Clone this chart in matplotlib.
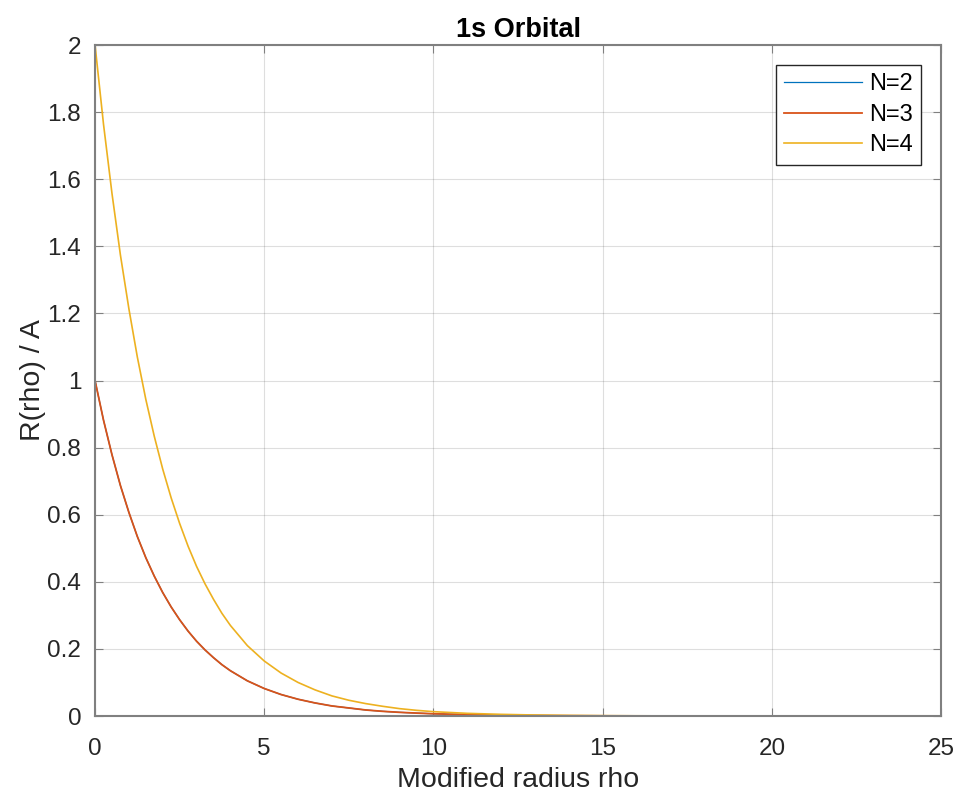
import matplotlib
matplotlib.use("Agg")
import matplotlib.pyplot as plt

plt.rcParams['font.family'] = ['Liberation Sans', 'DejaVu Sans']

rho = [0, 0.25, 0.5, 0.75, 1, 1.25, 1.5, 1.75, 2, 2.25, 2.5, 2.75, 3, 3.25, 3.5, 3.75, 4,
       4.5, 5, 5.5, 6, 6.5, 7, 7.5, 8, 8.5, 9, 9.5, 10,
       11, 12, 13, 14, 15, 16, 17, 18, 19, 20, 21, 22, 23, 24, 25]

r_n2 = [1.000, 0.882, 0.779, 0.687, 0.607, 0.535, 0.472, 0.417, 0.368, 0.325, 0.287, 0.253,
        0.223, 0.197, 0.174, 0.153, 0.135,
        0.105, 0.082, 0.064, 0.050, 0.039, 0.030, 0.024, 0.018, 0.014, 0.011, 0.0087, 0.0067,
        0.0041, 0.0025, 0.0015, 0.0009, 0.00055, 0.00034, 0.0002, 0.00012, 0.00007, 0.00005,
        0.00003, 0.00002, 0.00001, 0.00001, 0.0]

r_n3 = [1.000, 0.882, 0.779, 0.687, 0.607, 0.535, 0.472, 0.417, 0.368, 0.325, 0.287, 0.253,
        0.223, 0.197, 0.174, 0.153, 0.135,
        0.105, 0.082, 0.064, 0.050, 0.039, 0.030, 0.024, 0.018, 0.014, 0.011, 0.0087, 0.0067,
        0.0041, 0.0025, 0.0015, 0.0009, 0.00055, 0.00034, 0.0002, 0.00012, 0.00007, 0.00005,
        0.00003, 0.00002, 0.00001, 0.00001, 0.0]

r_n4 = [2.000, 1.764, 1.558, 1.374, 1.214, 1.070, 0.944, 0.834, 0.736, 0.650, 0.574, 0.506,
        0.446, 0.394, 0.348, 0.306, 0.270,
        0.210, 0.164, 0.128, 0.100, 0.078, 0.060, 0.047, 0.037, 0.029, 0.022, 0.017, 0.013,
        0.008, 0.005, 0.003, 0.0018, 0.0011, 0.0007, 0.0004, 0.00025, 0.00015, 0.0001,
        0.00006, 0.00003, 0.00002, 0.00001, 0.0]

labels = ['N=2', 'N=3', 'N=4']
colors = [(0, 0.447, 0.741), (0.850, 0.325, 0.098), (0.929, 0.694, 0.125)]
widths = [0.9, 1.3, 1.2]

fig = plt.figure(figsize=(9.61, 7.97), dpi=100)
ax = fig.add_axes([0.0989, 0.1016, 0.8803, 0.8419])

for ys, lab, c, w in zip([r_n2, r_n3, r_n4], labels, colors, widths):
    ax.plot(rho, ys, color=c, lw=w, label=lab)

ax.set_xlim(0, 25)
ax.set_ylim(0, 2)
ax.set_xticks([0, 5, 10, 15, 20, 25])
ax.set_yticks([0, 0.2, 0.4, 0.6, 0.8, 1.0, 1.2, 1.4, 1.6, 1.8, 2.0])
ax.set_yticklabels(['0', '0.2', '0.4', '0.6', '0.8', '1', '1.2', '1.4', '1.6', '1.8', '2'])

ax.grid(True, color=(0.15, 0.15, 0.15), alpha=0.15, lw=0.8)
ax.tick_params(direction='in', top=True, right=True, length=6, width=0.8,
               colors=(0.5, 0.5, 0.5), labelcolor=(0.15, 0.15, 0.15), labelsize=17.5)
ax.tick_params(axis='y', pad=10)
ax.tick_params(axis='x', pad=16)
for s in ax.spines.values():
    s.set_color((0.5, 0.5, 0.5))
    s.set_linewidth(1.5)

ax.set_xlabel('Modified radius rho', fontsize=20.5, color=(0.15, 0.15, 0.15), labelpad=5)
ax.set_ylabel('R(rho) / A', fontsize=20.5, color=(0.15, 0.15, 0.15), labelpad=1)
ax.set_title('1s Orbital', fontsize=19.5, fontweight='bold', color='black', pad=6)

leg = ax.legend(loc='upper right', fontsize=17, handlelength=3.3, fancybox=False,
                framealpha=1, edgecolor=(0.15, 0.15, 0.15), borderaxespad=0.85,
                labelspacing=0.36, handletextpad=0.3, borderpad=0.35)
leg.get_frame().set_linewidth(1.0)

fig.savefig('out.png', dpi=100)
